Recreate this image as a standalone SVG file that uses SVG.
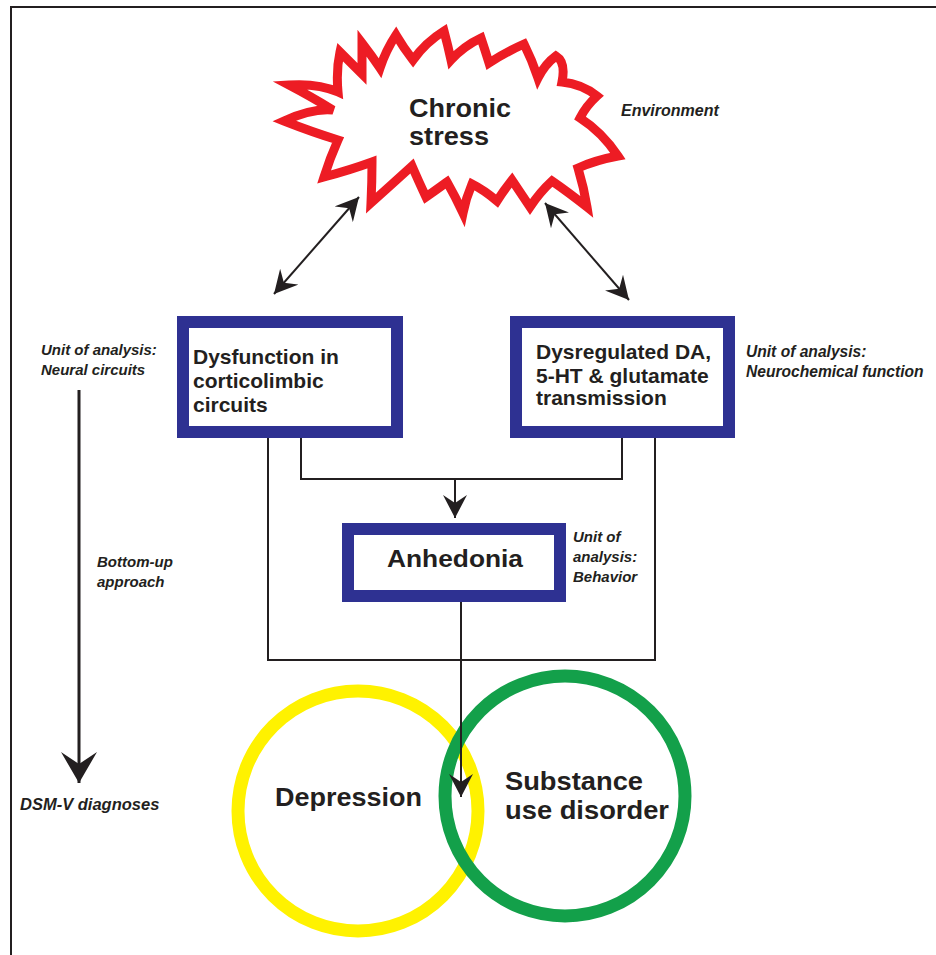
<svg xmlns="http://www.w3.org/2000/svg" width="936" height="955" viewBox="0 0 936 955">
<style>
.frame{fill:none;stroke:#231F20;stroke-width:2}
.cloud{fill:#fff;stroke:#ED1C24;stroke-width:9;stroke-linejoin:miter;stroke-miterlimit:4}
.box{fill:#fff;stroke:#2E3192;stroke-width:12}
.big{font-family:"Liberation Sans",Arial,sans-serif;font-weight:bold;fill:#231F20}
.lab{font-family:"Liberation Sans",Arial,sans-serif;font-weight:bold;font-style:italic;fill:#231F20}
.ln{fill:none;stroke:#231F20;stroke-width:2}
.ring{fill:none;stroke-width:13}
</style>
<defs>
<marker id="head" viewBox="0 0 23 24" refX="23" refY="12" markerWidth="23" markerHeight="24" markerUnits="userSpaceOnUse" orient="auto-start-reverse">
<path d="M0,0 L23,12 L0,24 L8,12 Z" fill="#231F20"/>
</marker>
<marker id="bighead" viewBox="0 0 31 36" refX="31" refY="18" markerWidth="31" markerHeight="36" markerUnits="userSpaceOnUse" orient="auto">
<path d="M0,0 L31,18 L0,36 L12,18 Z" fill="#231F20"/>
</marker>
</defs>
<rect width="936" height="955" fill="#fff"/>
<path class="frame" d="M11,955 V7 H936"/>

<g id="chronic-stress">
<path class="cloud" d="M284,121 Q312,108 333,110 Q310,96 289,85 Q318,83 338,92 Q336,70 340,52 Q352,64 362,74 L362,43 Q372,56 380,68 Q386,50 396,35 Q403,47 413,60 Q426,42 444,31 Q448,46 451,60 Q464,46 481,38 Q485,50 489,63 Q506,52 524,44 Q532,60 538,78 Q545,64 556,56 Q566,62 562,82 Q582,84 597,96 Q586,106 580,118 Q602,132 618,156 Q596,160 578,168 Q584,188 587,207 Q568,192 552,181 Q540,192 530,207 Q520,192 512,180 Q504,190 497,201 Q484,190 472,184 Q466,198 463,213 Q455,196 447,182 Q436,190 426,197 Q418,180 412,166 Q390,186 371,203 Q372,182 372,162 Q350,170 324,177 Q330,158 338,140 Q312,132 284,121 Z"/>
<text class="big" x="409" y="117" font-size="25" textLength="102" lengthAdjust="spacingAndGlyphs">Chronic</text>
<text class="big" x="409" y="145" font-size="25" textLength="80" lengthAdjust="spacingAndGlyphs">stress</text>
</g>
<g id="environment-label"><text class="lab" x="621" y="116" style="font-size:16px">Environment</text></g>

<g id="corticolimbic">
<rect class="box" x="183" y="322" width="214" height="110"/>
<text class="big" font-size="21" x="193"><tspan x="193" y="364">Dysfunction in</tspan><tspan x="193" y="388">corticolimbic</tspan><tspan x="193" y="412">circuits</tspan></text>
</g>
<g id="neurochemical">
<rect class="box" x="516" y="322" width="213" height="110"/>
<text class="big" font-size="21" x="536"><tspan x="536" y="359">Dysregulated DA,</tspan><tspan x="536" y="383">5-HT &amp; glutamate</tspan><tspan x="536" y="405">transmission</tspan></text>
</g>
<g id="anhedonia">
<rect class="box" x="348" y="529" width="212" height="67"/>
<text class="big" x="387" y="567" font-size="24" textLength="136" lengthAdjust="spacingAndGlyphs">Anhedonia</text>
</g>
<g id="depression">
<circle class="ring" cx="358" cy="811" r="120" stroke="#FFF200"/>
<text class="big" x="275" y="806" font-size="25" textLength="147" lengthAdjust="spacingAndGlyphs">Depression</text>
</g>
<g id="sud">
<circle class="ring" cx="565" cy="796" r="120" stroke="#13A04A"/>
<text class="big" font-size="25"><tspan x="505" y="790" textLength="138" lengthAdjust="spacingAndGlyphs">Substance</tspan><tspan x="505" y="819" textLength="164" lengthAdjust="spacingAndGlyphs">use disorder</tspan></text>
</g>

<g id="labels">
<text class="lab" style="font-size:15px"><tspan x="41" y="355">Unit of analysis:</tspan><tspan x="41" y="375">Neural circuits</tspan></text>
<text class="lab" style="font-size:15.6px"><tspan x="746" y="357">Unit of analysis:</tspan><tspan x="746" y="377">Neurochemical function</tspan></text>
<text class="lab" style="font-size:15px"><tspan x="573" y="542">Unit of</tspan><tspan x="573" y="562">analysis:</tspan><tspan x="573" y="582">Behavior</tspan></text>
<text class="lab" style="font-size:15px"><tspan x="97" y="567">Bottom-up</tspan><tspan x="97" y="587">approach</tspan></text>
<text class="lab" x="20" y="810" style="font-size:16.5px">DSM-V diagnoses</text>
</g>

<g id="connectors">
<line class="ln" x1="274" y1="294" x2="359" y2="197" marker-start="url(#head)" marker-end="url(#head)"/>
<line class="ln" x1="545" y1="203" x2="629" y2="300" marker-start="url(#head)" marker-end="url(#head)"/>
<path class="ln" d="M301,438 V479 H622 V438"/>
<line class="ln" x1="455" y1="479" x2="455" y2="518" marker-end="url(#head)"/>
<path class="ln" d="M268,438 V660 H655 V438"/>
<line class="ln" x1="461" y1="602" x2="461" y2="797" marker-end="url(#head)"/>
<line x1="79" y1="390" x2="79" y2="783" stroke="#231F20" stroke-width="3" marker-end="url(#bighead)"/>
</g>
</svg>
